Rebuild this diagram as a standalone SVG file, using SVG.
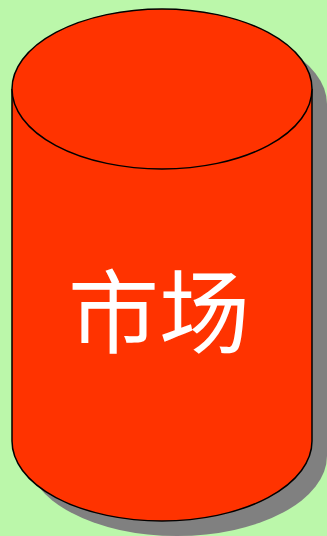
<svg xmlns="http://www.w3.org/2000/svg" width="327" height="536" viewBox="0 0 327 536">
<style>
.body{fill:#ff3300;stroke:#000;stroke-width:1.5}
.shadow{fill:#808080}
.lbl{font-family:"Noto Sans CJK SC","Noto Sans",sans-serif;font-size:91px;fill:#fff;text-anchor:middle;dominant-baseline:central}
</style>
<rect width="327" height="536" fill="#bbf7aa"/>
<g id="market">
<path class="shadow" transform="translate(15,15)" d="M12,89 A150,80 0 0 1 312,89 L312,441 A150,80 0 0 1 12,441 Z"/>
<path class="body" d="M12,89 A150,80 0 0 1 312,89 L312,441 A150,80 0 0 1 12,441 Z"/>
<path class="body" fill="none" d="M12,89 A150,80 0 0 0 312,89"/>
<text class="lbl" x="159" y="306">市场</text>
</g>
</svg>
